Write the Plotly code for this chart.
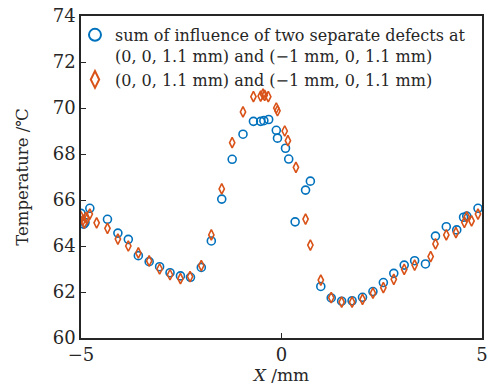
import plotly.graph_objects as go

# Blue circles: sum of influence of two separate defects
sum_x = [-5.00, -4.93, -4.90, -4.78, -4.34, -4.08, -3.82, -3.57, -3.30, -3.04, -2.78, -2.52,
         -2.27, -2.00, -1.75, -1.49, -1.23, -0.96, -0.70, -0.52, -0.44, -0.32, -0.13, -0.10,
         0.10, 0.18, 0.34, 0.60, 0.72, 0.98, 1.24, 1.50, 1.76, 2.02, 2.28, 2.54, 2.80, 3.06,
         3.32, 3.59, 3.84, 4.11, 4.37, 4.54, 4.62, 4.90]
sum_y = [65.42, 64.95, 65.02, 65.64, 65.16, 64.56, 64.29, 63.58, 63.32, 63.10, 62.84, 62.70,
         62.64, 63.07, 64.22, 66.04, 67.77, 68.86, 69.42, 69.42, 69.45, 69.50, 69.03, 68.69,
         68.25, 67.78, 65.05, 66.43, 66.82, 62.24, 61.74, 61.60, 61.62, 61.77, 62.02, 62.41,
         62.81, 63.17, 63.36, 63.22, 64.43, 64.84, 64.70, 65.25, 65.30, 65.64]

# Orange diamonds: two defects together
two_x = [-5.00, -4.95, -4.92, -4.88, -4.85, -4.78, -4.61, -4.34, -4.08, -3.82, -3.57, -3.30,
         -3.04, -2.78, -2.52, -2.28, -2.00, -1.75, -1.49, -1.23, -0.96, -0.70, -0.52, -0.46,
         -0.42, -0.33, -0.13, -0.10, 0.08, 0.16, 0.36, 0.60, 0.72, 0.98, 1.24, 1.50, 1.76,
         2.02, 2.28, 2.54, 2.80, 3.06, 3.32, 3.72, 3.84, 4.11, 4.35, 4.56, 4.62, 4.74, 4.90]
two_y = [65.27, 65.13, 64.99, 65.25, 65.18, 65.39, 65.01, 64.77, 64.30, 64.00, 63.70, 63.35,
         63.00, 62.75, 62.58, 62.67, 63.15, 64.48, 66.48, 68.49, 69.83, 70.49, 70.52, 70.60,
         70.55, 70.49, 70.00, 69.88, 69.00, 68.58, 67.42, 65.17, 64.04, 62.52, 61.76, 61.56,
         61.56, 61.68, 61.95, 62.19, 62.55, 62.98, 63.17, 63.54, 64.09, 64.48, 64.58, 65.03,
         65.27, 65.09, 65.39]

legend_names = ["sum of influence of two separate defects at<br>(0, 0, 1.1 mm) and (\u22121 mm, 0, 1.1 mm)",
                "(0, 0, 1.1 mm) and (\u22121 mm, 0, 1.1 mm)"]
x_ticks = [-5, 0, 5]
x_tick_text = ["\u22125", "0", "5"]
y_ticks = [60, 62, 64, 66, 68, 70, 72, 74]

BLUE = "#0072BD"
ORANGE = "#D95319"
FONT = "DejaVu Serif"
INK = "#262626"

fig = go.Figure()
fig.add_trace(go.Scatter(x=sum_x, y=sum_y, mode="markers", name=legend_names[0],
                         marker=dict(symbol="circle-open", size=8, color=BLUE,
                                     line=dict(width=1.6, color=BLUE))))
fig.add_trace(go.Scatter(x=two_x, y=two_y, mode="markers", name=legend_names[1],
                         marker=dict(symbol="diamond-tall-open", size=7.5, color=ORANGE,
                                     line=dict(width=1.6, color=ORANGE))))

axis_common = dict(showline=True, linecolor=INK, linewidth=1.5, mirror=True,
                   ticks="inside", ticklen=5, tickwidth=1, tickcolor=INK,
                   showgrid=False, zeroline=False,
                   tickfont=dict(family=FONT, size=18, color=INK))

fig.update_layout(
    width=492, height=391,
    margin=dict(l=81, r=4, t=16, b=53),
    paper_bgcolor="white", plot_bgcolor="white",
    font=dict(family=FONT, size=16, color=INK),
    showlegend=True,
    legend=dict(x=-0.015, y=0.994, xanchor="left", yanchor="top", bgcolor="rgba(0,0,0,0)",
                borderwidth=0, valign="top", tracegroupgap=0,
                font=dict(family=FONT, size=16, color=INK),
                itemsizing="constant"),
    xaxis=dict(range=[-5, 5], tickvals=x_ticks, ticktext=x_tick_text,
               title=dict(text="<i>X</i> /mm", standoff=2,
                          font=dict(family=FONT, size=17, color=INK)),
               **axis_common),
    yaxis=dict(range=[60, 74], tickvals=y_ticks,
               title=dict(text="Temperature /\u2103", standoff=20,
                          font=dict(family=FONT, size=16.5, color=INK)),
               **axis_common),
)

fig.write_html("out.html")
